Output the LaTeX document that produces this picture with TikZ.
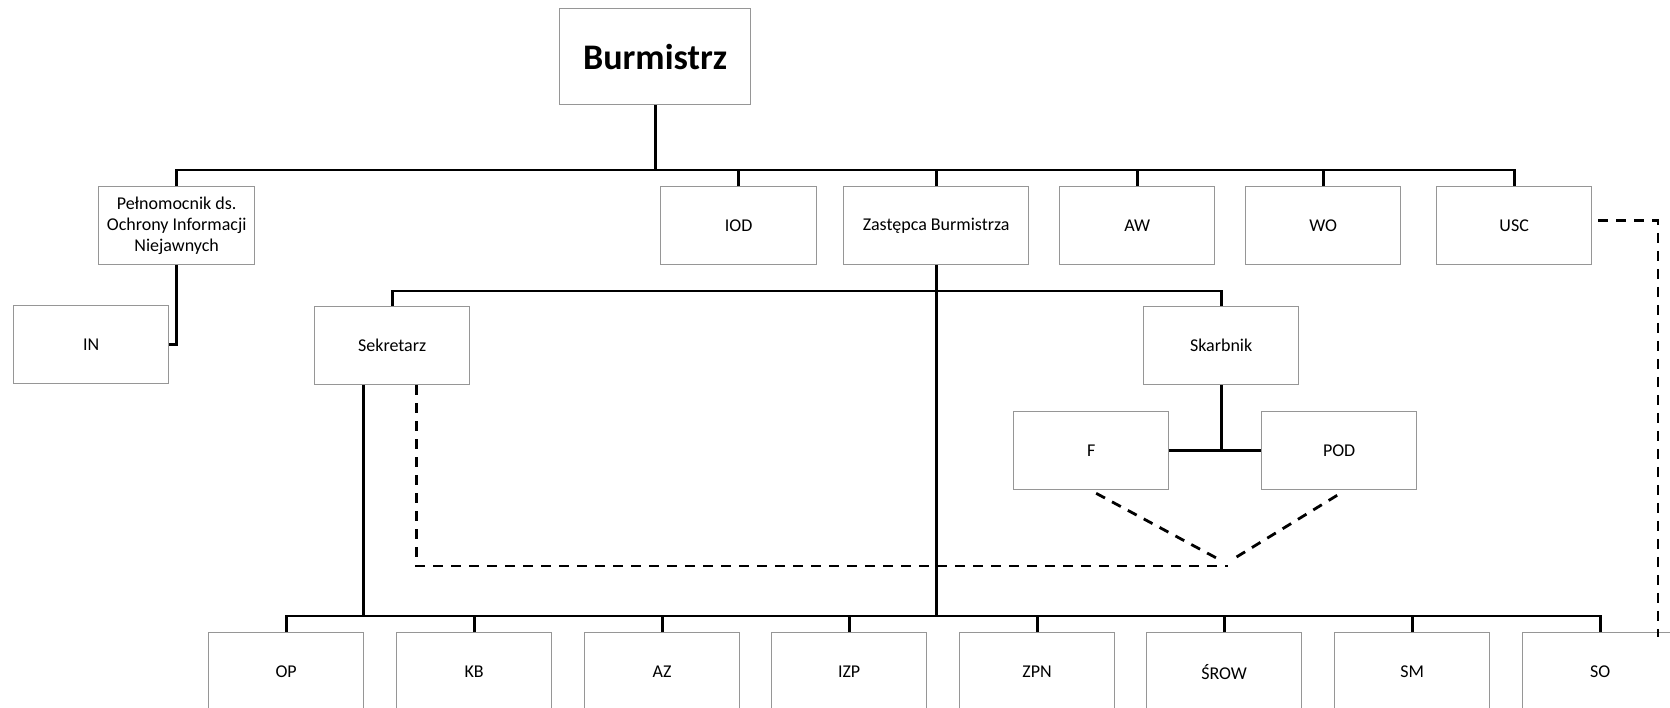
\documentclass[tikz,border=0pt]{standalone}
\usepackage{fontspec}
\setmainfont{Carlito}
\usetikzlibrary{calc}
\definecolor{boxgray}{RGB}{150,150,150}
\tikzset{
  orgbox/.style={draw=boxgray, line width=1.3pt, fill=white, inner sep=0pt,
    anchor=north west, minimum height=78pt, align=center,
    font=\fontsize{18}{21}\selectfont},
  conn/.style={line width=2.8pt, black},
  dashline/.style={line width=2.8pt, black, dash pattern=on 10pt off 8pt},
}
\begin{document}
\begin{tikzpicture}[x=1pt,y=-1pt]
\useasboundingbox (0,0) rectangle (1670,707);
\clip (0,0) rectangle (1670,707);
% top
\node[orgbox, minimum width=191pt, minimum height=96pt, font=\fontsize{36}{40}\selectfont\bfseries] (b) at (559,8) {Burmistrz};
% first row
\node[orgbox, minimum width=156pt] (pel) at (98,186) {Pełnomocnik ds.\\Ochrony Informacji\\Niejawnych};
\node[orgbox, minimum width=156pt] (iod) at (660,186) {IOD};
\node[orgbox, minimum width=185pt] (zas) at (843,186) {Zastępca Burmistrza};
\node[orgbox, minimum width=155pt] (aw) at (1059,186) {AW};
\node[orgbox, minimum width=155pt] (wo) at (1245,186) {WO};
\node[orgbox, minimum width=155pt] (usc) at (1436,186) {USC};
% second level
\node[orgbox, minimum width=155pt] (in) at (13,305) {IN};
\node[orgbox, minimum width=155pt] (sek) at (314,306) {Sekretarz};
\node[orgbox, minimum width=155pt] (ska) at (1143,306) {Skarbnik};
\node[orgbox, minimum width=155pt] (f) at (1013,411) {F};
\node[orgbox, minimum width=155pt] (pod) at (1261,411) {POD};
% bottom row
\node[orgbox, minimum width=155pt] (op) at (208,632) {OP};
\node[orgbox, minimum width=155pt] (kb) at (396,632) {KB};
\node[orgbox, minimum width=155pt] (az) at (584,632) {AZ};
\node[orgbox, minimum width=155pt] (izp) at (771,632) {IZP};
\node[orgbox, minimum width=155pt] (zpn) at (959,632) {ZPN};
\node[orgbox, minimum width=155pt] (srow) at (1146,632) {ŚROW};
\node[orgbox, minimum width=155pt] (sm) at (1334,632) {SM};
\node[orgbox, minimum width=155pt] (so) at (1522,632) {SO};
% bus coordinates
\coordinate (bus1) at (0,170);
\coordinate (bus2) at (0,291);
\coordinate (bus3) at (0,616);
% top bus
\draw[conn] (b.south) -- (b.south|-bus1);
\draw[conn] (pel.north) -- (pel.north|-bus1) -- (usc.north|-bus1) -- (usc.north);
\foreach \n in {iod,zas,aw,wo} \draw[conn] (\n.north) -- (\n.north|-bus1);
% Pelnomocnik -> IN
\draw[conn] (pel.south) |- (in.east);
% Zastepca -> second bus
\draw[conn] (sek.north) -- (sek.north|-bus2) -- (ska.north|-bus2) -- (ska.north);
\draw[conn] (zas.south) -- (zas.south|-bus3);
% Skarbnik -> F, POD
\draw[conn] (ska.south) -- (ska.south|-f.east);
\draw[conn] (f.east) -- (pod.west);
% bottom bus
\draw[conn] (op.north) -- (op.north|-bus3) -- (so.north|-bus3) -- (so.north);
\foreach \n in {kb,az,izp,zpn,srow,sm} \draw[conn] (\n.north) -- (\n.north|-bus3);
% Sekretarz solid to bottom bus
\coordinate (s1) at ([xshift=-29pt]sek.south);
\draw[conn] (s1) -- (s1|-bus3);
% dashed connections
\coordinate (s2) at ([xshift=24pt]sek.south);
\coordinate (v) at (1228,566);
\coordinate (vf) at (1222,561);
\coordinate (vp) at (1230,561);
\draw[dashline] (s2) |- (v);
\draw[dashline] ($(f.south)+(5,3)$) -- (vf);
\draw[dashline] ($(pod.south)+(-2,5)$) -- (vp);
\coordinate (d2) at (1658,637);
\draw[dashline] ($(usc.east)+(6,-5)$) -| (d2);
\end{tikzpicture}
\end{document}
